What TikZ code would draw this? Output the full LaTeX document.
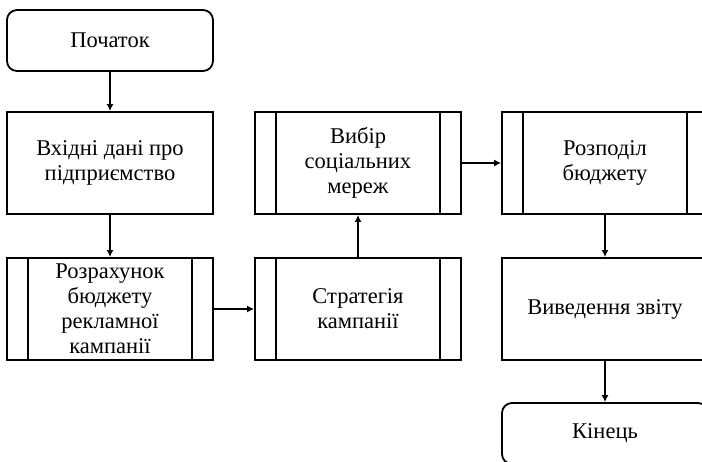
\documentclass[tikz,border=0pt]{standalone}
\usepackage{fontspec}
\setmainfont{Liberation Serif}
\usetikzlibrary{arrows.meta}
\begin{document}
\begin{tikzpicture}[x=1pt,y=-1pt,
  box/.style={draw, line width=1.8pt, minimum width=206pt, minimum height=102pt, align=center, inner sep=0pt,
    font=\fontsize{22.5}{25}\selectfont},
  term/.style={box, minimum height=61pt, rounded corners=10pt},
  subbox/.style={box, path picture={
    \draw[line width=1.8pt] ([xshift=21pt]path picture bounding box.north west) -- ([xshift=21pt]path picture bounding box.south west);
    \draw[line width=1.8pt] ([xshift=-21pt]path picture bounding box.north east) -- ([xshift=-21pt]path picture bounding box.south east);}},
  conn/.style={line width=1.8pt, -{Latex[length=7pt,width=7pt]}}]
\path[use as bounding box, clip] (0,0) rectangle (702,462);
\node[term] (start) at (110,40.5) {Початок};
\node[box] (b1) at (110,163) {Вхідні дані про\\підприємство};
\node[subbox] (b2) at (110,309) {Розрахунок\\бюджету\\рекламної\\кампанії};
\node[subbox] (b3) at (358,309) {Стратегія\\кампанії};
\node[subbox] (b4) at (358,163) {Вибір\\соціальних\\мереж};
\node[subbox] (b5) at (605,163) {Розподіл\\бюджету};
\node[box] (b6) at (605,309) {Виведення звіту};
\node[term] (end) at (605,433.5) {Кінець};
\draw[conn] (start) -- (b1);
\draw[conn] (b1) -- (b2);
\draw[conn] (b2) -- (b3);
\draw[conn] (b3) -- (b4);
\draw[conn] (b4) -- (b5);
\draw[conn] (b5) -- (b6);
\draw[conn] (b6) -- (end);
\end{tikzpicture}
\end{document}
